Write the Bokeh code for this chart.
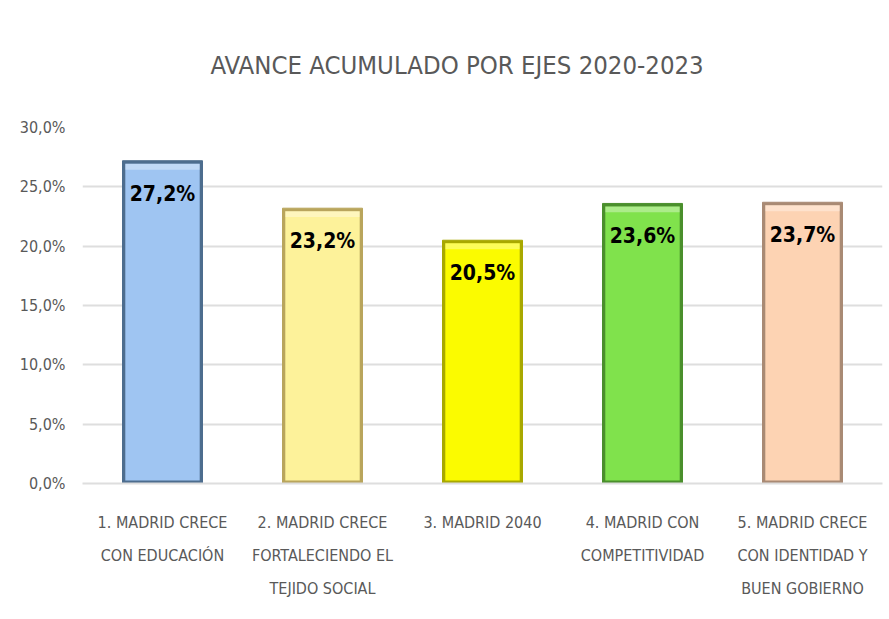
from bokeh.plotting import figure
from bokeh.models import ColumnDataSource, Range1d, FactorRange, FixedTicker
from bokeh.core.properties import value
from bokeh.embed import file_html
from bokeh.resources import INLINE

categories = [
    "1. MADRID CRECE\nCON EDUCACIÓN",
    "2. MADRID CRECE\nFORTALECIENDO EL\nTEJIDO SOCIAL",
    "3. MADRID 2040",
    "4. MADRID CON\nCOMPETITIVIDAD",
    "5. MADRID CRECE\nCON IDENTIDAD Y\nBUEN GOBIERNO",
]
values = [27.2, 23.2, 20.5, 23.6, 23.7]
value_labels = ["27,2%", "23,2%", "20,5%", "23,6%", "23,7%"]
fill_colors = ["#9fc5f2", "#fdf29a", "#fbfb00", "#80e24c", "#fdd3b3"]
edge_colors = ["#4d6d8e", "#b9a55c", "#a8a800", "#4a8f2c", "#a98a74"]
y_ticks = [0, 5, 10, 15, 20, 25, 30]
y_tick_labels = ["0,0%", "5,0%", "10,0%", "15,0%", "20,0%", "25,0%", "30,0%"]

FONT = "DejaVu Sans Condensed, Liberation Sans Narrow, sans-serif"

src = ColumnDataSource(dict(
    cat=categories,
    val=values,
    inner_top=[v - 0.25 for v in values],
    bevel_bottom=[v - 0.75 for v in values],
    lab=value_labels,
    fill=fill_colors,
    edge=edge_colors,
))

p = figure(
    width=889, height=619,
    x_range=FactorRange(*categories, range_padding=0),
    y_range=Range1d(0, 30),
    output_backend="svg", toolbar_location=None,
    min_border_left=82, min_border_right=7,
    min_border_top=125, min_border_bottom=136,
    title="AVANCE ACUMULADO POR EJES 2020-2023",
)
p.title.align = "left"
p.title.text_font = FONT
p.title.text_font_style = "normal"
p.title.text_font_size = "25.5px"
p.title.text_color = "#595959"
p.title.offset = 128
p.title.standoff = 95

p.outline_line_color = None
p.background_fill_color = "white"
p.border_fill_color = "white"

p.xgrid.grid_line_color = None
p.ygrid.grid_line_color = "#dedede"
p.ygrid.grid_line_width = 2
p.yaxis.ticker = FixedTicker(ticks=y_ticks)

p.vbar(x="cat", top="val", bottom=0, width=0.5, source=src,
       fill_color="edge", line_color="edge", line_width=1)
p.vbar(x="cat", top="inner_top", bottom=0.25, width=0.465, source=src,
       fill_color="fill", line_color=None)
p.vbar(x="cat", top="inner_top", bottom="bevel_bottom", width=0.465, source=src,
       fill_color="white", fill_alpha=0.35, line_color=None)

p.text(x="cat", y="val", text="lab", source=src,
       text_font=value(FONT), text_font_style="bold", text_font_size="21px",
       text_color="black", text_align="center", text_baseline="middle",
       y_offset=33)

p.yaxis.axis_line_color = None
p.yaxis.major_tick_line_color = None
p.yaxis.minor_tick_line_color = None
p.yaxis.major_label_overrides = {t: l for t, l in zip(y_ticks, y_tick_labels)}
p.yaxis.major_label_text_font = FONT
p.yaxis.major_label_text_font_size = "16px"
p.yaxis.major_label_text_color = "#595959"
p.yaxis.major_label_standoff = 11

p.xaxis.axis_line_color = "#dedede"
p.xaxis.axis_line_width = 2
p.xaxis.major_tick_line_color = None
p.xaxis.minor_tick_line_color = None
p.xaxis.major_label_text_font = FONT
p.xaxis.major_label_text_font_size = "16px"
p.xaxis.major_label_text_color = "#595959"
p.xaxis.major_label_text_line_height = 1.75
p.xaxis.major_label_standoff = 23

open("out.html", "w").write(file_html(p, INLINE))
